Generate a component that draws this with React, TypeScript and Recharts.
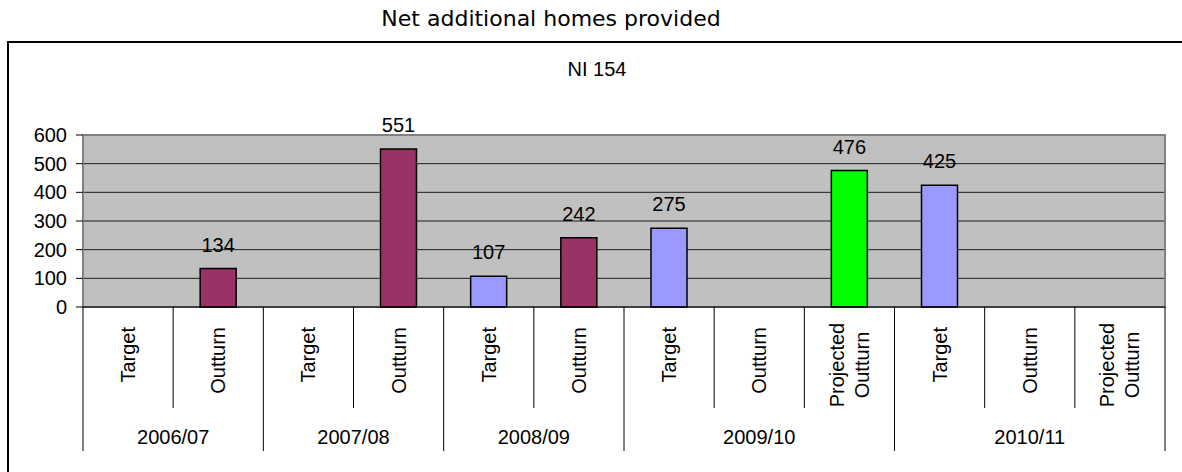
import { Bar, BarChart, CartesianGrid, Cell, LabelList, ReferenceArea, XAxis, YAxis } from "recharts"

const years = ["2006/07", "2007/08", "2008/09", "2009/10", "2010/11"]
const yearSlots = [2, 2, 2, 3, 3]
const categories = [
  "Target", "Outturn",
  "Target", "Outturn",
  "Target", "Outturn",
  "Target", "Outturn", "Projected Outturn",
  "Target", "Outturn", "Projected Outturn",
]
const values = [null, 134, null, 551, 107, 242, 275, null, 476, 425, null, null]
const kinds = [
  "target", "outturn",
  "target", "outturn",
  "target", "outturn",
  "target", "outturn", "projected",
  "target", "outturn", "projected",
]
const yTicks = [0, 100, 200, 300, 400, 500, 600]

const kindColors: Record<string, string> = {
  target: "#9999FF",
  outturn: "#993366",
  projected: "#00FF00",
}

const W = 1182
const H = 472
const xAxisHeight = 165
const yAxisWidth = 83
const margin = { top: 135, right: 17, bottom: 0, left: 0 }
const slotWidth = (W - margin.left - margin.right - yAxisWidth) / categories.length
const font = "'Liberation Sans', Arial, sans-serif"

// expand year groups to one entry per slot
const slotYear: number[] = []
yearSlots.forEach((n, yi) => {
  for (let k = 0; k < n; k++) slotYear.push(yi)
})

const data = categories.map((label, i) => ({
  slot: `${years[slotYear[i]]} ${label} ${i}`,
  label,
  value: values[i],
  kind: kinds[i],
  year: slotYear[i],
}))

function CategoryTick(props: any) {
  const { x, y, payload } = props
  const i = payload.index as number
  const row = data[i]
  const half = slotWidth / 2
  const firstOfYear = i === 0 || data[i - 1].year !== row.year
  const lines = row.label === "Projected Outturn" ? ["Projected", "Outturn"] : [row.label]
  const cy = y + 20

  return (
    <g>
      <line
        x1={x - half}
        x2={x - half}
        y1={y}
        y2={firstOfYear ? y + 144 : y + 101}
        stroke="#000"
        strokeWidth={1}
      />
      {i === data.length - 1 && (
        <line x1={x + half} x2={x + half} y1={y} y2={y + 144} stroke="#000" strokeWidth={1} />
      )}
      {lines.length === 1 ? (
        <text
          transform={`translate(${x}, ${cy}) rotate(-90)`}
          textAnchor="end"
          dominantBaseline="central"
          fontSize={20}
          fontFamily={font}
          fill="#000"
        >
          {lines[0]}
        </text>
      ) : (
        lines.map((ln, k) => (
          <text
            key={k}
            transform={`translate(${x + (k - (lines.length - 1) / 2) * 25}, ${y + 58}) rotate(-90)`}
            textAnchor="middle"
            dominantBaseline="central"
            fontSize={20}
            fontFamily={font}
            fill="#000"
          >
            {ln}
          </text>
        ))
      )}
      {firstOfYear && (
        <text
          x={x - half + (yearSlots[row.year] * slotWidth) / 2}
          y={y + 130}
          textAnchor="middle"
          dominantBaseline="central"
          fontSize={20}
          fontFamily={font}
          fill="#000"
        >
          {years[row.year]}
        </text>
      )}
    </g>
  )
}

function ValueLabel(props: any) {
  const { x, y, width, value } = props
  if (value === null || value === undefined) return null
  return (
    <text x={x + width / 2} y={y - 17} textAnchor="middle" fontSize={20} fontFamily={font} fill="#000">
      {value}
    </text>
  )
}

export default function App() {
  return (
    <div style={{ position: "absolute", left: 0, top: 0, width: W, height: H, background: "#fff", overflow: "hidden" }}>
      <div
        style={{
          position: "absolute",
          left: 0,
          top: 8,
          width: 1102,
          textAlign: "center",
          fontFamily: "'DejaVu Sans', Verdana, sans-serif",
          fontSize: 22,
          lineHeight: "22px",
          color: "#000",
        }}
      >
        Net additional homes provided
      </div>
      <div
        style={{
          position: "absolute",
          left: 7,
          top: 41,
          width: W,
          height: H,
          borderTop: "2px solid #000",
          borderLeft: "2px solid #000",
        }}
      />
      <div
        style={{
          position: "absolute",
          left: 0,
          top: 59,
          width: 1194,
          textAlign: "center",
          fontFamily: font,
          fontSize: 20,
          lineHeight: "20px",
          color: "#000",
        }}
      >
        NI 154
      </div>
      <div style={{ position: "absolute", left: 0, top: 0 }}>
        <BarChart width={W} height={H} data={data} margin={margin}>
          <CartesianGrid vertical={false} fill="#C0C0C0" stroke="#000" strokeOpacity={0.85} />
          <ReferenceArea y1={0} y2={600} fill="none" stroke="#808080" strokeWidth={2} />
          <XAxis
            dataKey="slot"
            height={xAxisHeight}
            interval={0}
            tickLine={false}
            tickSize={0}
            tickMargin={0}
            axisLine={{ stroke: "#000", strokeWidth: 1 }}
            tick={<CategoryTick />}
          />
          <YAxis
            width={yAxisWidth}
            domain={[0, 600]}
            ticks={yTicks}
            interval={0}
            axisLine={false}
            tickLine={{ stroke: "#000" }}
            tickSize={7}
            tickMargin={9}
            tick={{ fontSize: 20, fill: "#000", fontFamily: font }}
          />
          <Bar dataKey="value" barSize={36} stroke="#000" strokeWidth={1.5} isAnimationActive={false}>
            {data.map((d, i) => (
              <Cell key={i} fill={kindColors[d.kind]} />
            ))}
            <LabelList dataKey="value" content={<ValueLabel />} />
          </Bar>
        </BarChart>
      </div>
    </div>
  )
}
